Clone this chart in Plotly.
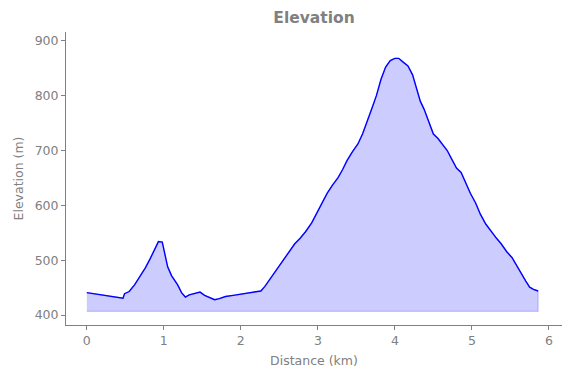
import plotly.graph_objects as go

distance_km = [0.00, 0.10, 0.20, 0.30, 0.40, 0.47, 0.49, 0.55, 0.62, 0.69, 0.76, 0.82, 0.88, 0.93, 0.98,
               1.01, 1.05, 1.10, 1.18, 1.23, 1.28, 1.33, 1.40, 1.47, 1.53, 1.60, 1.66, 1.72, 1.80, 1.90,
               2.00, 2.10, 2.20, 2.26, 2.31, 2.38, 2.45, 2.52, 2.58, 2.64, 2.70, 2.77, 2.84, 2.92, 3.00,
               3.06, 3.12, 3.19, 3.26, 3.32, 3.38, 3.45, 3.52, 3.58, 3.64, 3.70, 3.76, 3.82, 3.88, 3.94,
               4.00, 4.05, 4.10, 4.17, 4.23, 4.28, 4.33, 4.38, 4.44, 4.50, 4.56, 4.62, 4.68, 4.74, 4.80,
               4.86, 4.92, 4.98, 5.05, 5.11, 5.18, 5.25, 5.32, 5.38, 5.45, 5.52, 5.58, 5.64, 5.70, 5.75,
               5.80, 5.86]
elevation_m = [441, 439, 437, 435, 433, 431, 439, 443, 455, 470, 486, 502, 520, 534, 533,
               512, 488, 472, 455, 441, 433, 437, 440, 442, 436, 431, 428, 430, 434, 436,
               438, 440, 442, 444, 452, 466, 478, 492, 506, 516, 530, 540, 552, 568, 590,
               608, 622, 637, 650, 665, 682, 698, 712, 730, 752, 776, 800, 830, 852, 864,
               868, 868, 862, 854, 838, 812, 790, 775, 752, 730, 722, 712, 700, 684, 668,
               660, 640, 622, 604, 584, 566, 552, 540, 530, 516, 505, 490, 476, 462, 451,
               447, 444]
baseline_m = 407

x_ticks = [0, 1, 2, 3, 4, 5, 6]
y_ticks = [400, 500, 600, 700, 800, 900]

grey = "#808080"
font_family = "DejaVu Sans"

fig = go.Figure()

# filled area polygon down to baseline
poly_x = distance_km + [distance_km[-1], distance_km[0]]
poly_y = elevation_m + [baseline_m, baseline_m]
fig.add_trace(go.Scatter(
    x=poly_x, y=poly_y, mode="lines", fill="toself",
    fillcolor="rgba(0,0,255,0.2)",
    line=dict(color="rgba(0,0,255,0.2)", width=1.2),
    hoverinfo="skip", showlegend=False,
))
fig.add_trace(go.Scatter(
    x=distance_km, y=elevation_m, mode="lines",
    line=dict(color="#0000ff", width=1.4),
    showlegend=False,
))

axis_common = dict(
    showgrid=False, zeroline=False, showline=True, linecolor=grey, linewidth=1,
    ticks="outside", ticklen=4, tickwidth=1, tickcolor=grey,
    tickfont=dict(family=font_family, size=12.5, color=grey),
    mirror=False, automargin=False,
)

fig.update_layout(
    width=571, height=378,
    margin=dict(l=66, r=9, t=32, b=53),
    paper_bgcolor="white", plot_bgcolor="white",
    title=dict(text="<b>Elevation</b>", x=0.55, xanchor="center",
               y=1 - 18 / 378, yanchor="middle", yref="container",
               font=dict(family=font_family, size=15.5, color=grey)),
    xaxis=dict(range=[-0.27, 6.17], tickvals=x_ticks,
               title=dict(text="Distance (km)", standoff=9,
                          font=dict(family=font_family, size=12.5, color=grey)),
               **axis_common),
    yaxis=dict(range=[382, 916], tickvals=y_ticks,
               title=dict(text="Elevation (m)", standoff=8,
                          font=dict(family=font_family, size=12.5, color=grey)),
               **axis_common),
)

fig.write_html("out.html", config={"displayModeBar": False},
               post_script="document.body.style.margin='0';")
